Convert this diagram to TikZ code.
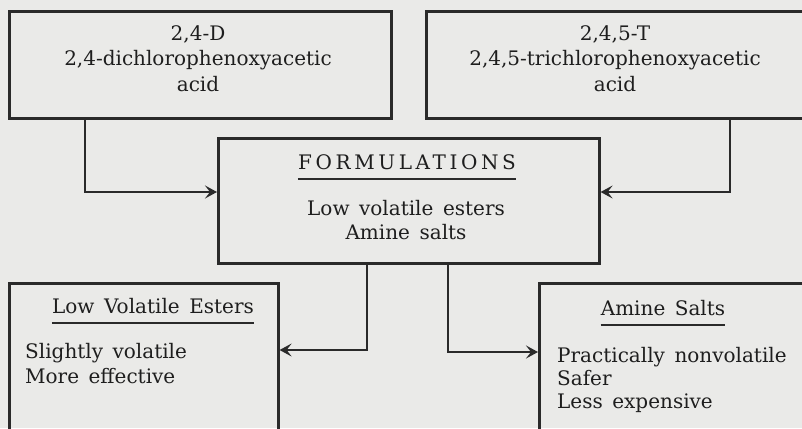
\documentclass[tikz,border=0pt]{standalone}
\usepackage{fontspec}
\setmainfont[WordSpace=1.5]{DejaVu Serif}
\usetikzlibrary{arrows.meta}
\definecolor{paper}{HTML}{EAEAE8}
\definecolor{ink}{HTML}{2A2A2A}
\definecolor{textink}{HTML}{1E1E1E}
\tikzset{
  box/.style={draw=ink, line width=2.6pt, rectangle, inner sep=0pt, anchor=north west},
  conn/.style={draw=ink, line width=1.8pt, -{Stealth[length=12pt,width=13pt,inset=5pt]}},
  txt/.style={inner sep=0pt, anchor=base, text=textink, font=\fontsize{20}{24}\selectfont},
  txtl/.style={txt, anchor=base west},
  uline/.style={draw=ink, line width=1.3pt}
}
\begin{document}
\begin{tikzpicture}[x=1pt,y=-1pt]
\fill[paper] (0,0) rectangle (802,428);
\clip (0,0) rectangle (802,428);
\useasboundingbox (0,0) rectangle (802,428);
% boxes
\node[box, minimum width=382pt, minimum height=107pt] (A) at (8,10) {};
\node[box, minimum width=380pt, minimum height=107pt] (B) at (425,10) {};
\node[box, minimum width=381pt, minimum height=125pt] (F) at (217,137) {};
\node[box, minimum width=269pt, minimum height=170pt] (L) at (8,282) {};
\node[box, minimum width=282pt, minimum height=170pt] (M) at (538,282) {};
% texts
\node[txt] (a1) at (198,41) {2,4-D};
\node[txt] (a2) at (198,66) {2,4-dichlorophenoxyacetic};
\node[txt] (a3) at (198,91) {acid};
\node[txt] (b1) at (615,41) {2,4,5-T};
\node[txt] (b2) at (615,66) {2,4,5-trichlorophenoxyacetic};
\node[txt] (b3) at (615,91) {acid};
\node[txt, font=\fontsize{20}{24}\selectfont\addfontfeature{LetterSpace=18}] (f1) at (407,169) {FORMULATIONS};
\node[txt] (f2) at (406,215) {Low volatile esters};
\node[txt] (f3) at (406,239) {Amine salts};
\node[txt] (l1) at (153,313) {Low Volatile Esters};
\node[txtl] (l2) at (25,358) {Slightly volatile};
\node[txtl] (l3) at (25,383) {More effective};
\node[txt] (m1) at (663,315) {Amine Salts};
\node[txtl] (m2) at (557,362) {Practically nonvolatile};
\node[txtl] (m3) at (557,385) {Safer};
\node[txtl] (m4) at (557,408) {Less expensive};
% underlines
\draw[uline] ([yshift=-10pt]f1.base west) -- ([yshift=-10pt]f1.base east);
\draw[uline] ([yshift=-10pt]l1.base west) -- ([yshift=-10pt]l1.base east);
\draw[uline] ([yshift=-10pt]m1.base west) -- ([yshift=-10pt]m1.base east);
% connector turn points
\coordinate (ca) at (85,192);
\coordinate (cb) at (730,192);
\coordinate (cl) at (367,350);
\coordinate (cm) at (448,352);
\draw[conn] (A.south -| ca) |- (F.west |- ca);
\draw[conn] (B.south -| cb) |- (F.east |- cb);
\draw[conn] (F.south -| cl) |- (L.east |- cl);
\draw[conn] (F.south -| cm) |- (M.west |- cm);
\end{tikzpicture}
\end{document}
